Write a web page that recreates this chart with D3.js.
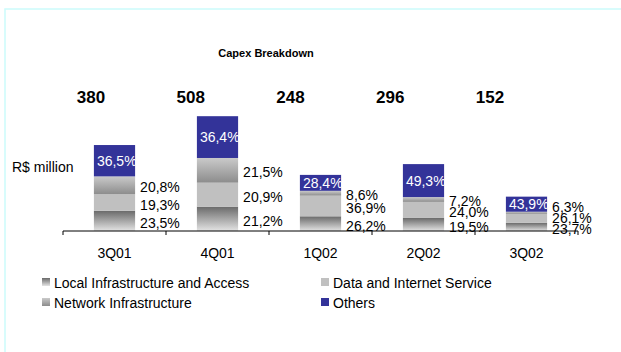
<!DOCTYPE html>
<html>
<head>
<meta charset="utf-8">
<script src="https://cdn.jsdelivr.net/npm/d3@7"></script>
<style>
    body { margin: 0; background: #fff; }
    svg { display: block; font-family: "Liberation Sans", Arial, sans-serif; }
</style>
</head>
<body>
<div class="charts"></div>
<script>

    // values
    var quarters = ['3Q01', '4Q01', '1Q02', '2Q02', '3Q02']
    var totals = [380, 508, 248, 296, 152]
    var localInfra = [23.5, 21.2, 26.2, 19.5, 23.7]
    var dataInternet = [19.3, 20.9, 36.9, 24.0, 26.1]
    var networkInfra = [20.8, 21.5, 8.6, 7.2, 6.3]
    var others = [36.5, 36.4, 28.4, 49.3, 43.9]

    var seriesKeys = ['local', 'data', 'network', 'others']
    var seriesNames = ['Local Infrastructure and Access', 'Data and Internet Service', 'Network Infrastructure', 'Others']

    var width = 621, height = 352

    var rows = quarters.map((q, i) => {
        return {
            quarter: q,
            total: totals[i],
            local: totals[i] * localInfra[i] / 100,
            data: totals[i] * dataInternet[i] / 100,
            network: totals[i] * networkInfra[i] / 100,
            others: totals[i] * others[i] / 100,
            pct: { local: localInfra[i], data: dataInternet[i], network: networkInfra[i], others: others[i] }
        }
    })

    var stacked = d3.stack().keys(seriesKeys)(rows)

    var x = d3.scaleBand()
        .domain(quarters)
        .range([63, 578])
        .paddingInner(0.6)
        .paddingOuter(0.3)

    var xTotals = d3.scalePoint()
        .domain(quarters)
        .range([91, 490])

    var y = d3.scaleLinear()
        .domain([0, 500])
        .range([231, 118])

    var comma = d3.formatLocale({ decimal: ',', thousands: '.', grouping: [3], currency: ['R$', ''] }).format('.1f')

    var fills = { local: 'url(#gLocal)', data: '#c0c0c0', network: 'url(#gNetwork)', others: '#333399' }

    var svg = d3.select('.charts')
        .append('svg')
        .attr('width', width)
        .attr('height', height)

    var defs = svg.append('defs')
    var gradients = [
        { id: 'gLocal', stops: ['#6a6a6a', '#e4e4e4'] },
        { id: 'gNetwork', stops: ['#cacaca', '#8c8c8c'] }
    ]
    defs.selectAll('linearGradient')
        .data(gradients)
        .join('linearGradient')
        .attr('id', d => d.id)
        .attr('x1', 0).attr('x2', 0).attr('y1', 0).attr('y2', 1)
        .selectAll('stop')
        .data(d => d.stops)
        .join('stop')
        .attr('offset', (d, i) => i)
        .attr('stop-color', d => d)

    // light frame of the slide
    svg.append('path')
        .attr('d', 'M5,' + height + 'V9H' + width)
        .attr('fill', 'none')
        .attr('stroke', '#ccfcfc')
        .attr('stroke-width', 1.5)

    svg.append('text')
        .attr('x', 266)
        .attr('y', 57)
        .attr('text-anchor', 'middle')
        .style('font-size', '11px')
        .style('font-weight', 'bold')
        .text('Capex Breakdown')

    svg.selectAll('.total')
        .data(rows)
        .join('text')
        .attr('class', 'total')
        .attr('x', d => xTotals(d.quarter))
        .attr('y', 103)
        .attr('text-anchor', 'middle')
        .style('font-size', '17px')
        .style('font-weight', 'bold')
        .text(d => d.total)

    svg.append('text')
        .attr('x', 12)
        .attr('y', 172)
        .style('font-size', '14px')
        .text('R$ million')

    // stacked bars
    svg.selectAll('.series')
        .data(stacked)
        .join('g')
        .attr('class', 'series')
        .attr('fill', d => fills[d.key])
        .selectAll('rect')
        .data(d => d)
        .join('rect')
        .attr('x', d => x(d.data.quarter))
        .attr('width', x.bandwidth())
        .attr('y', d => y(d[1]))
        .attr('height', d => y(d[0]) - y(d[1]))

    // white labels inside the "others" segment
    var othersLayer = stacked.find(s => s.key == 'others')
    svg.selectAll('.label-others')
        .data(othersLayer)
        .join('text')
        .attr('class', 'label-others')
        .attr('x', d => x(d.data.quarter) + 3)
        .attr('y', d => (y(d[0]) + y(d[1])) / 2)
        .attr('dy', '0.36em')
        .attr('fill', '#fff')
        .style('font-size', '14px')
        .text(d => comma(d.data.pct.others) + '%')

    // black labels beside the bar, kept apart so they do not overlap
    var sideLabels = []
    rows.forEach((r, i) => {
        var last = null
        ;['local', 'data', 'network'].forEach(k => {
            var layer = stacked.find(s => s.key == k)[i]
            var cy = (y(layer[0]) + y(layer[1])) / 2 + 2
            if (last != null) cy = Math.min(cy, last - 11)
            last = cy
            sideLabels.push({ quarter: r.quarter, cy: cy, text: comma(r.pct[k]) + '%' })
        })
    })

    svg.selectAll('.label-side')
        .data(sideLabels)
        .join('text')
        .attr('class', 'label-side')
        .attr('x', d => x(d.quarter) + x.bandwidth() + 5)
        .attr('y', d => d.cy)
        .attr('dy', '0.36em')
        .style('font-size', '14px')
        .text(d => d.text)

    // category axis with ticks between categories
    var axisG = svg.append('g').attr('transform', 'translate(0,231)')
    axisG.append('line')
        .attr('x1', 63).attr('x2', 578)
        .attr('stroke', '#000')
    axisG.selectAll('.tick')
        .data(quarters.concat(['end']))
        .join('line')
        .attr('class', 'tick')
        .attr('x1', (d, i) => 63 + i * x.step())
        .attr('x2', (d, i) => 63 + i * x.step())
        .attr('y1', 0).attr('y2', 4)
        .attr('stroke', '#000')
    axisG.selectAll('.tick-label')
        .data(quarters)
        .join('text')
        .attr('class', 'tick-label')
        .attr('x', d => x(d) + x.bandwidth() / 2)
        .attr('y', 27)
        .attr('text-anchor', 'middle')
        .style('font-size', '14px')
        .text(d => d)

    // legend
    var legendOrder = ['local', 'data', 'network', 'others']
    var legendSwatch = { local: 'url(#gLocal)', data: '#c0c0c0', network: 'url(#gNetwork)', others: '#333399' }
    svg.selectAll('.legend')
        .data(legendOrder)
        .join('g')
        .attr('class', 'legend')
        .attr('transform', (d, i) => 'translate(' + (i % 2 == 0 ? 42 : 321) + ',' + (i < 2 ? 278 : 298) + ')')
        .call(sel => {
            sel.append('rect')
                .attr('width', 8)
                .attr('height', 8)
                .attr('fill', d => legendSwatch[d])
            sel.append('text')
                .attr('x', 12)
                .attr('y', 9.5)
                .style('font-size', '14px')
                .text(d => seriesNames[seriesKeys.indexOf(d)])
        })

</script>
</body>
</html>
